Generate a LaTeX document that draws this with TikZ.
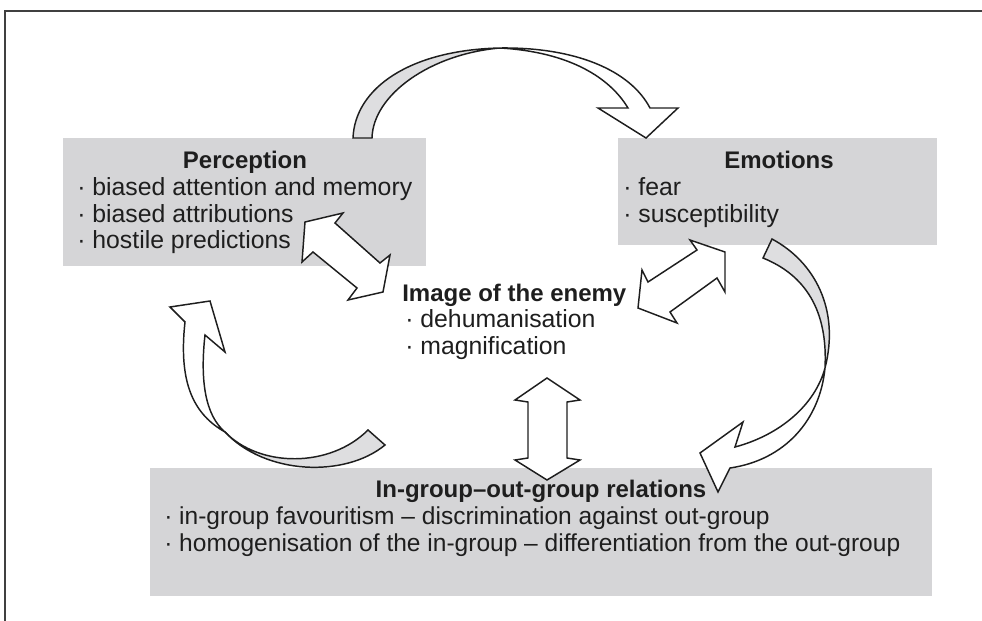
\documentclass[tikz,border=0pt]{standalone}
\usepackage{fontspec}
\setmainfont{Liberation Sans}
\usetikzlibrary{fit}
\definecolor{boxgrey}{RGB}{213,213,215}
\definecolor{ribbongrey}{RGB}{222,222,224}
\definecolor{ink}{RGB}{30,30,30}
\begin{document}
\begin{tikzpicture}[x=0.75pt,y=-0.75pt,
  panel/.style={fill=boxgrey, draw=none, inner sep=0pt},
  outline/.style={draw=ink, line width=1.1pt, line join=miter},
  frontface/.style={outline, fill=white},
  backface/.style={outline, fill=ribbongrey},
  frameline/.style={draw=ink!85, line width=1.1pt},
  item/.style={anchor=base west, inner sep=0pt, text=ink, font=\fontsize{18.6}{20}\selectfont},
  title/.style={anchor=base, inner sep=0pt, text=ink, font=\bfseries\fontsize{18}{20}\selectfont}]
\useasboundingbox (0,0) rectangle (982,621);

% open frame (top and left edges)
\draw[frameline] (5,621) -- (5,11) -- (982,11);

% grey panels
\node[panel, fit={(63,138)(426,266)}] (perc) {};
\node[panel, fit={(618,138)(937,245)}] (emo) {};
\node[panel, fit={(150,468)(932,596)}] (rel) {};

% curved arrow: Perception -> Emotions
\filldraw[backface] (353,138) .. controls (355,88) and (410,50) .. (500,48)
  .. controls (430,54) and (373,95) .. (372,138) -- cycle;
\filldraw[frontface] (500,48) .. controls (575,47) and (630,70) .. (650,108)
  -- (678,108) -- (646,138) -- (598,108) -- (628,108)
  .. controls (610,78) and (570,52) .. (500,48) -- cycle;

% curved arrow: Emotions -> relations
\filldraw[backface] (772,239) .. controls (815,262) and (840,310) .. (825,368)
  .. controls (828,310) and (805,275) .. (763,258) -- cycle;
\filldraw[frontface] (825,368) .. controls (815,405) and (780,435) .. (735,447)
  -- (743,422) -- (700,453) -- (718,492) -- (730,468)
  .. controls (785,460) and (820,420) .. (825,368) -- cycle;

% curved arrow: relations -> Perception
\filldraw[backface] (225,432) .. controls (260,468) and (330,468) .. (368,430)
  -- (385,445) .. controls (345,478) and (265,475) .. (225,432) -- cycle;
\filldraw[frontface] (185,322) -- (170,307) -- (210,301) -- (225,352) -- (205,335)
  .. controls (200,380) and (205,415) .. (225,432)
  .. controls (195,415) and (178,385) .. (185,322) -- cycle;

% double arrows towards the image of the enemy
\filldraw[frontface] (305,222) -- (343,213) -- (335,223) -- (380,263) -- (390,255)
  -- (383,292) -- (348,300) -- (357,288) -- (313,252) -- (302,262) -- cycle;
\filldraw[frontface] (690,240) -- (725,252) -- (725,292) -- (717,278) -- (670,312)
  -- (677,323) -- (638,308) -- (642,270) -- (648,282) -- (697,250) -- cycle;
\filldraw[frontface] (547,378) -- (580,400) -- (567,402) -- (567,458) -- (580,460)
  -- (547,480) -- (515,460) -- (528,458) -- (528,402) -- (515,400) -- cycle;

% Perception
\node[title] (percT) at (245,168) {Perception};
\node[item] (perc1) at (77,195) {· biased attention and memory};
\node[item] (perc2) at (77,222) {· biased attributions};
\node[item] (perc3) at (77,248) {· hostile predictions};

% Emotions
\node[title] (emoT) at (779,168) {Emotions};
\node[item] (emo1) at (623,195) {· fear};
\node[item] (emo2) at (623,222) {· susceptibility};

% Image of the enemy
\node[title, anchor=base west] (imgT) at (402,301) {Image of the enemy};
\node[item] (img1) at (405,327) {· dehumanisation};
\node[item] (img2) at (405,354) {· magnification};

% In-group / out-group relations
\node[title] (relT) at (541,497) {In-group–out-group relations};
\node[item, font=\fontsize{18.4}{20}\selectfont] (rel1) at (164,524) {· in-group favouritism – discrimination against out-group};
\node[item, font=\fontsize{18.4}{20}\selectfont] (rel2) at (164,551) {· homogenisation of the in-group – differentiation from the out-group};
\end{tikzpicture}
\end{document}
